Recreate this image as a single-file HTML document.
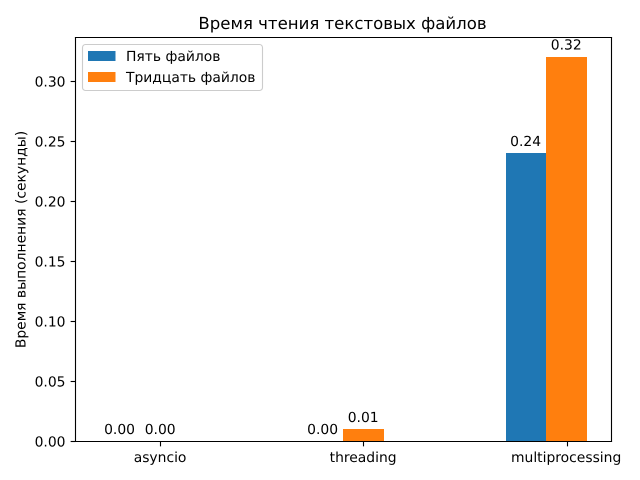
<!DOCTYPE html>
<html>
<head>
<meta charset="utf-8">
<title>Время чтения текстовых файлов</title>
<style>
html,body{margin:0;padding:0;background:#fff;width:640px;height:480px;overflow:hidden}
svg{display:block}
text{font-family:"DejaVu Sans",sans-serif;fill:#000;text-rendering:geometricPrecision}
</style>
</head>
<body>
<svg id="chart" xmlns="http://www.w3.org/2000/svg" width="640" height="480" viewBox="0 0 640 480">
<rect x="0" y="0" width="640" height="480" fill="#fff"/>
<text x="342.5" y="29" font-size="16.56" text-anchor="middle">Время чтения текстовых файлов</text>
<text transform="translate(25.5,239.5) rotate(-90)" font-size="13.89" text-anchor="middle">Время выполнения (секунды)</text>
<g id="bars"></g>
<g id="bar-labels"></g>
<g id="y-axis"></g>
<g id="x-axis"></g>
<g fill="none" stroke="#000" stroke-width="1.11">
<line x1="75.5" y1="37.5" x2="75.5" y2="441.5" stroke-linecap="square"/>
<line x1="611.5" y1="37.5" x2="611.5" y2="441.5" stroke-linecap="square"/>
<line x1="75.5" y1="37.5" x2="611.5" y2="37.5" stroke-linecap="square"/>
<line x1="75.5" y1="441.5" x2="611.5" y2="441.5" stroke-linecap="square"/>
</g>
<g>
<rect x="82.5" y="44.5" width="180" height="46" rx="3" ry="3" fill="#fff" fill-opacity="0.8" stroke="#ccc" stroke-width="1.11"/>
<rect x="88" y="51" width="27.5" height="10" fill="#1f77b4"/>
<text x="126" y="61" font-size="13.89">Пять файлов</text>
<rect x="88" y="72" width="27.5" height="10" fill="#ff7f0e"/>
<text x="126" y="82" font-size="13.89">Тридцать файлов</text>
</g>
</svg>
<script>
const categories = ['asyncio', 'threading', 'multiprocessing'];
const fiveFiles = [0.00, 0.00, 0.24];
const thirtyFiles = [0.00, 0.01, 0.32];
const yTickValues = [0.00, 0.05, 0.10, 0.15, 0.20, 0.25, 0.30];

const NS = 'http://www.w3.org/2000/svg';
const plot = { left: 75.3, right: 611.3, top: 37.9, bottom: 441.5 };
const barWidth = 0.2;
const yMax = Math.max(...fiveFiles, ...thirtyFiles) * 1.05;
const xMin = -0.3 - 0.12;
const xMax = categories.length - 1 + 0.1 + 0.12;

function xScale(v) {
  return plot.left + (v - xMin) / (xMax - xMin) * (plot.right - plot.left);
}
function yScale(v) {
  return plot.bottom - v / yMax * (plot.bottom - plot.top);
}
function make(tag, attrs, parent, content) {
  const el = document.createElementNS(NS, tag);
  for (const k in attrs) el.setAttribute(k, attrs[k]);
  if (content !== undefined) el.textContent = content;
  parent.appendChild(el);
  return el;
}

const barsGroup = document.getElementById('bars');
const labelsGroup = document.getElementById('bar-labels');
const yAxisGroup = document.getElementById('y-axis');
const xAxisGroup = document.getElementById('x-axis');

function drawSeries(values, offset, color, seriesName) {
  values.forEach(function (v, i) {
    const cx = i + offset;
    const x0 = Math.round(xScale(cx - barWidth / 2));
    const x1 = Math.round(xScale(cx + barWidth / 2));
    const yTop = yScale(v);
    const snappedTop = Math.round(yTop);
    const bar = make('rect', { x: x0, y: snappedTop, width: x1 - x0, height: 442 - snappedTop, fill: color }, barsGroup);
    
    
    const label = make('text', { x: xScale(cx) - 0.4, y: yTop - 7.4, 'font-size': 13.89, 'text-anchor': 'middle' }, labelsGroup, v.toFixed(2));
    
    
  });
}
drawSeries(fiveFiles, -0.2, '#1f77b4', 'five-files');
drawSeries(thirtyFiles, 0, '#ff7f0e', 'thirty-files');

yTickValues.forEach(function (v) {
  const y = Math.floor(yScale(v)) + 0.5;
  const tick = make('line', { x1: plot.left - 4.66, x2: plot.left + 0.2, y1: y, y2: y, stroke: '#000', 'stroke-width': 1.11 }, yAxisGroup);
  
  
  const label = make('text', { x: 65.5, y: y + 5, 'font-size': 13.89, 'text-anchor': 'end' }, yAxisGroup, v.toFixed(2));
  
  
});

categories.forEach(function (c, i) {
  const x = Math.floor(xScale(i) + 0.39) + 0.5;
  const tick = make('line', { x1: x, x2: x, y1: plot.bottom, y2: plot.bottom + 4.86, stroke: '#000', 'stroke-width': 1.11 }, xAxisGroup);
  
  
  const label = make('text', { x: xScale(i) - 0.5, y: 462, 'font-size': 13.89, 'text-anchor': 'middle' }, xAxisGroup, c);
  
  
});
</script>
</body>
</html>
